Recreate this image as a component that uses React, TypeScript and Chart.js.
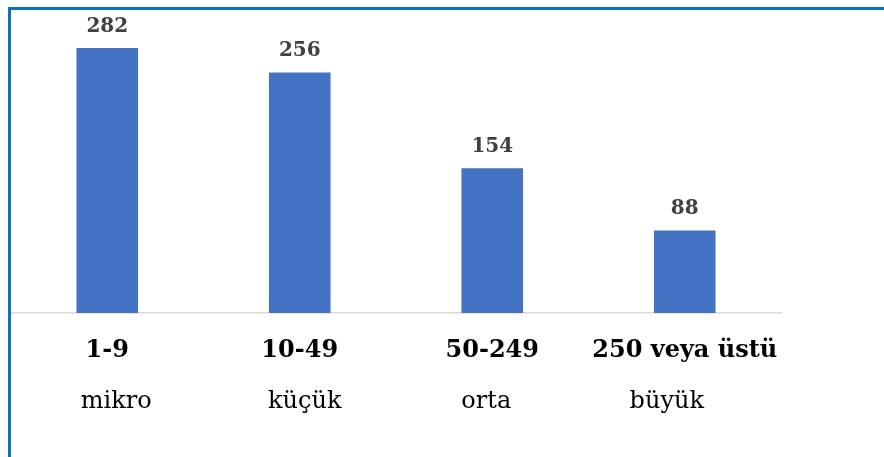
import React, { useEffect, useRef } from "react";
import { Chart, registerables } from "chart.js";

Chart.register(...registerables);

const categories = ["1-9", "10-49", "50-249", "250 veya üstü"];
const subLabels = ["mikro", "küçük", "orta", "büyük"];
const values = [282, 256, 154, 88];
const yMax = 300;

// layout-only: horizontal nudges of the second label line (px)
const subLabelShift = [9, 5, -6, -18];

const serif = "'DejaVu Serif', serif";

const labelPlugin = {
  id: "labels",
  afterDatasetsDraw(chart: any) {
    const { ctx } = chart;
    const meta = chart.getDatasetMeta(0);
    const xScale = chart.scales.x;
    ctx.save();
    // value labels
    ctx.font = `bold 20px ${serif}`;
    ctx.fillStyle = "#404040";
    ctx.textAlign = "center";
    ctx.textBaseline = "alphabetic";
    meta.data.forEach((bar: any, i: number) => {
      ctx.fillText(String(values[i]), bar.x, bar.y - 16);
    });
    // second line of category labels
    ctx.font = `24px ${serif}`;
    ctx.fillStyle = "#000000";
    subLabels.forEach((s, i) => {
      const x = xScale.getPixelForValue(i) + subLabelShift[i];
      ctx.fillText(s, x, 408);
    });
    ctx.restore();
  },
};

export default function App() {
  const ref = useRef<HTMLCanvasElement | null>(null);
  useEffect(() => {
    document.body.style.margin = "0";
    if (!ref.current) return;
    const chart = new Chart(ref.current, {
      type: "bar",
      data: {
        labels: categories,
        datasets: [
          {
            data: values,
            backgroundColor: "#4472C4",
            borderWidth: 0,
            categoryPercentage: 0.8,
            barPercentage: 0.4,
          },
        ],
      },
      options: {
        responsive: false,
        animation: false,
        layout: { padding: { left: 11, right: 103, top: 31, bottom: 69 } },
        plugins: { legend: { display: false }, tooltip: { enabled: false } },
        scales: {
          x: {
            grid: { display: false, drawTicks: false },
            border: { display: true, color: "#D9D9D9", width: 1.5 },
            ticks: {
              font: { family: serif, size: 24, weight: "bold" },
              color: "#000000",
              padding: 23,
              maxRotation: 0,
              autoSkip: false,
            },
          },
          y: { display: false, min: 0, max: yMax },
        },
      },
      plugins: [labelPlugin],
    });
    return () => chart.destroy();
  }, []);
  return (
    <div style={{ position: "relative", width: 884, height: 457, overflow: "hidden", background: "#fff" }}>
      <canvas ref={ref} width={884} height={457} style={{ position: "absolute", left: 0, top: 0 }} />
      <div
        style={{
          position: "absolute",
          left: 8,
          top: 7,
          width: 900,
          height: 460,
          borderTop: "3px solid #0B71C1",
          borderLeft: "3px solid #0B71C1",
          pointerEvents: "none",
        }}
      />
    </div>
  );
}
